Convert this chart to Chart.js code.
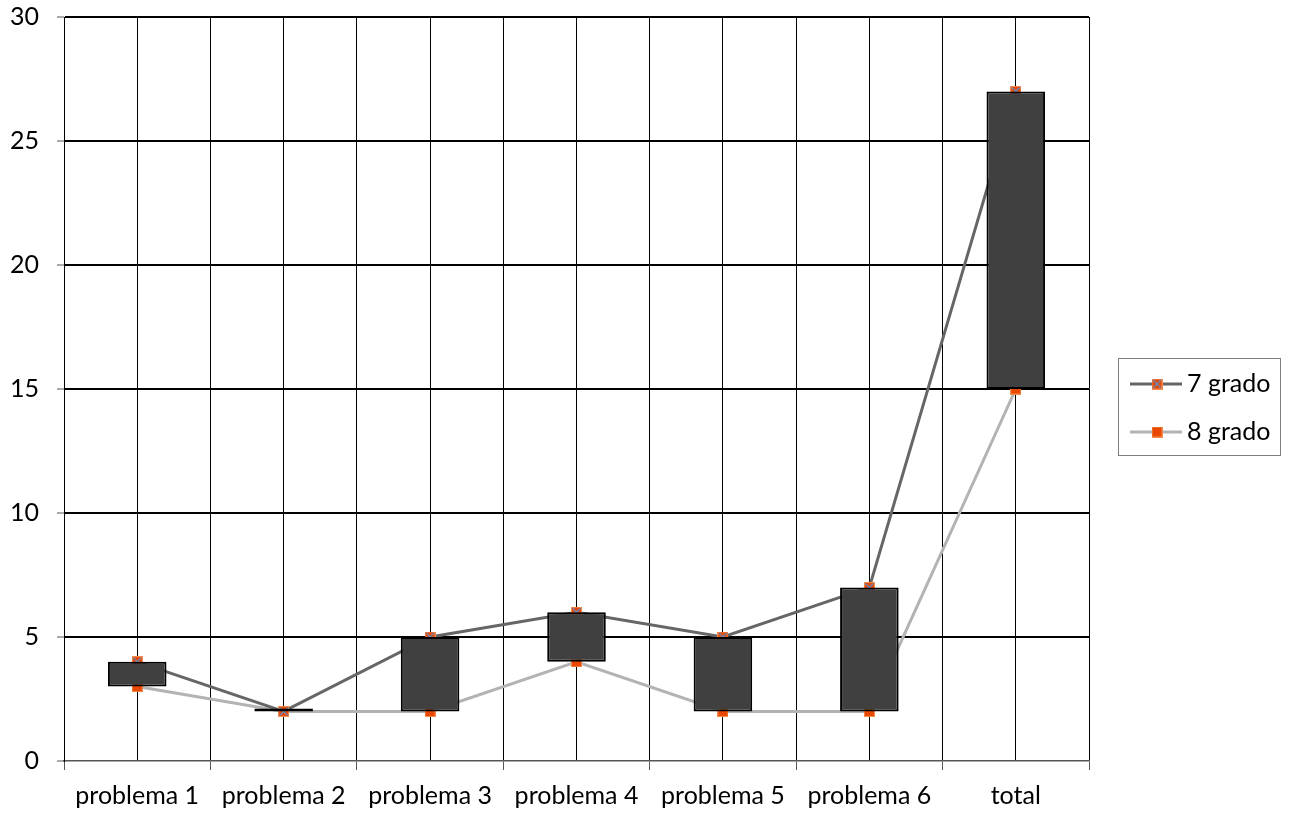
<!DOCTYPE html>
<html>
<head>
<meta charset="utf-8">
<script src="https://cdn.jsdelivr.net/npm/chart.js@4.4.1/dist/chart.umd.min.js"></script>
<style>
  html, body { margin: 0; padding: 0; background: #fff; }
  #wrap { width: 1293px; height: 816px; position: relative; }
</style>
</head>
<body>
<div id="wrap"><canvas id="c" width="1293" height="816"></canvas></div>
<script>
// Category names along the bottom axis
const categories = ['problema 1', 'problema 2', 'problema 3', 'problema 4', 'problema 5', 'problema 6', 'total'];
// Scores per grade
const grado7 = [4, 2, 5, 6, 5, 7, 27];
const grado8 = [3, 2, 2, 4, 2, 2, 15];
const seriesNames = ['7 grado', '8 grado'];
// Value axis ticks
const yTicks = [0, 5, 10, 15, 20, 25, 30];

const FONT = 'Lato, "Open Sans", sans-serif';
const FONT_SIZE = 25;

// Marker images: orange square, the first one crossed in blue
function makeMarker(cross) {
  const s = 11;
  const cv = document.createElement('canvas');
  cv.width = s; cv.height = s;
  const g = cv.getContext('2d');
  g.fillStyle = '#f58a4c';
  g.fillRect(0, 0, s, s);
  g.fillStyle = '#e84800';
  g.fillRect(1, 1, s - 2, s - 2);
  if (cross) {
    g.strokeStyle = '#5b8fd0';
    g.lineWidth = 1.2;
    g.beginPath();
    g.moveTo(1.5, 1.5); g.lineTo(s - 1.5, s - 1.5);
    g.moveTo(s - 1.5, 1.5); g.lineTo(1.5, s - 1.5);
    g.stroke();
  }
  return cv;
}
const marker7 = makeMarker(true);
const marker8 = makeMarker(false);

const pts = arr => arr.map((v, i) => ({ x: i + 1, y: v }));
const upDown = grado7.map((v, i) => ({ x: i + 1, y: [Math.min(v, grado8[i]), Math.max(v, grado8[i])] }));

// Boxed legend at the right of the plot
const boxLegend = {
  id: 'boxLegend',
  afterDraw(chart) {
    const ctx = chart.ctx;
    const x0 = 1118.5, y0 = 358.5, w = 162, h = 97;
    ctx.save();
    ctx.strokeStyle = '#7f7f7f';
    ctx.lineWidth = 1;
    ctx.strokeRect(x0, y0, w, h);
    const items = [
      { y: 384, color: '#666666', img: marker7, label: seriesNames[0] },
      { y: 432, color: '#b3b3b3', img: marker8, label: seriesNames[1] }
    ];
    items.forEach(it => {
      ctx.strokeStyle = it.color;
      ctx.lineWidth = 3;
      ctx.beginPath();
      ctx.moveTo(1130, it.y);
      ctx.lineTo(1182, it.y);
      ctx.stroke();
      ctx.drawImage(it.img, 1157 - 5.5, it.y - 5.5);
      ctx.fillStyle = '#000';
      ctx.font = FONT_SIZE + 'px ' + FONT;
      ctx.textBaseline = 'middle';
      ctx.textAlign = 'left';
      ctx.fillText(it.label, 1187, it.y);
    });
    ctx.restore();
  }
};

new Chart(document.getElementById('c'), {
  type: 'bar',
  data: {
    datasets: [
      {
        type: 'bar',
        label: 'up-down',
        data: upDown,
        backgroundColor: '#404040',
        borderColor: '#000000',
        borderWidth: 2,
        borderSkipped: false,
        barPercentage: 0.8,
        categoryPercentage: 1,
        minBarLength: 3,
        order: 0
      },
      {
        type: 'line',
        label: seriesNames[0],
        data: pts(grado7),
        borderColor: '#666666',
        borderWidth: 3,
        pointStyle: marker7,
        fill: false,
        tension: 0,
        order: 1
      },
      {
        type: 'line',
        label: seriesNames[1],
        data: pts(grado8),
        borderColor: '#b3b3b3',
        borderWidth: 3,
        pointStyle: marker8,
        fill: false,
        tension: 0,
        order: 2
      }
    ]
  },
  options: {
    responsive: false,
    animation: false,
    layout: { padding: { top: 17, right: 204, left: 0, bottom: 0 } },
    plugins: { legend: { display: false }, tooltip: { enabled: false } },
    scales: {
      x: {
        type: 'linear',
        min: 0.5,
        max: 7.5,
        offset: false,
        afterBuildTicks(scale) {
          const t = [];
          for (let v = 0.5; v <= 7.5; v += 0.5) t.push({ value: v });
          scale.ticks = t;
        },
        afterFit(scale) { scale.height = 55; },
        border: { display: true, color: '#555555', width: 1.5 },
        grid: {
          offset: false,
          color: '#000000',
          lineWidth: 1,
          tickLength: 9,
          tickColor: ctx => (ctx.tick && Number.isInteger(ctx.tick.value)) ? 'rgba(0,0,0,0)' : '#555555'
        },
        ticks: {
          autoSkip: false,
          maxRotation: 0,
          padding: 11,
          color: '#000',
          font: { family: FONT, size: FONT_SIZE },
          callback: v => Number.isInteger(v) ? categories[v - 1] : ''
        }
      },
      y: {
        min: 0,
        max: 30,
        afterBuildTicks(scale) { scale.ticks = yTicks.map(v => ({ value: v })); },
        afterFit(scale) {
          scale.width = 64;
          scale.paddingTop = 0;
          scale.paddingBottom = 0;
        },
        border: { display: true, color: '#000000', width: 1 },
        grid: {
          color: ctx => (ctx.tick && ctx.tick.value === 0) ? 'rgba(0,0,0,0)' : '#000000',
          lineWidth: 2,
          tickLength: 7,
          tickColor: '#555555',
          tickWidth: 1
        },
        ticks: {
          padding: 18,
          color: '#000',
          font: { family: FONT, size: FONT_SIZE }
        }
      }
    }
  },
  plugins: [boxLegend]
});
</script>
</body>
</html>
